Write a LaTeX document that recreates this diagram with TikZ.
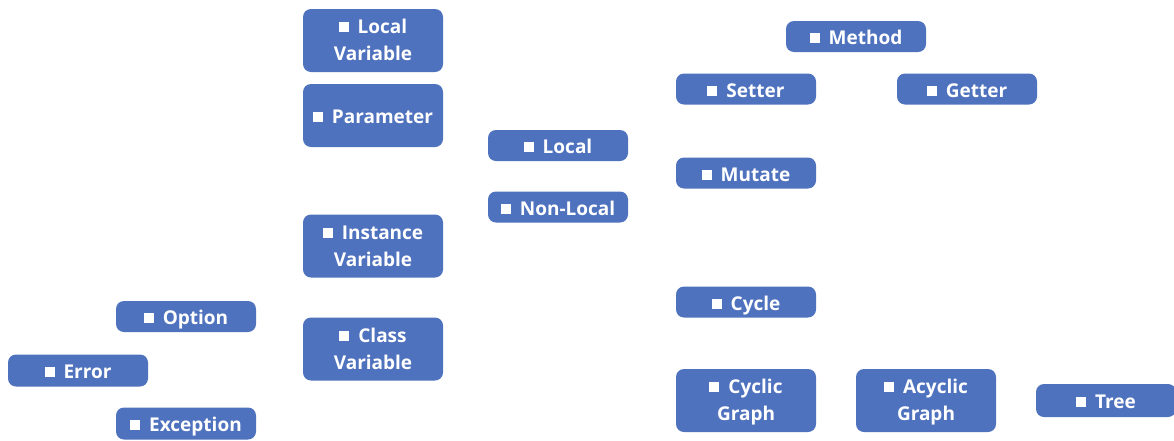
\documentclass[tikz,border=0pt]{standalone}
\usepackage{fontspec}
\setmainfont{Open Sans}
\definecolor{boxblue}{RGB}{79,114,190}
\newcommand\bul{\rule[-5pt]{0pt}{26.9pt}\raisebox{1.5pt}{\rule{10pt}{10pt}}\hspace{9pt}}
\newcommand\lastl{\rule[-8.3pt]{0pt}{1pt}}
\tikzset{
  box/.style={fill=boxblue, draw=none, rounded corners=8pt, text=white,
    font=\fontsize{19}{27}\selectfont\bfseries, align=center,
    inner sep=0pt, minimum width=140pt},
  onebox/.style={box, minimum height=31pt},
  twobox/.style={box, minimum height=63pt}
}
\begin{document}
\begin{tikzpicture}[x=1pt,y=-1pt]
\useasboundingbox[fill=white] (0,0) rectangle (1174,440);
\node[twobox] (localvar) at (373,40.5) {\bul Local\\Variable\lastl};
\node[twobox] (param) at (373,115.5) {\bul Parameter};
\node[twobox] (instvar) at (373,246) {\bul Instance\\Variable\lastl};
\node[twobox] (classvar) at (373,349) {\bul Class\\Variable\lastl};
\node[onebox] (local) at (558,145.5) {\bul Local};
\node[onebox] (nonlocal) at (558,207) {\bul Non-Local};
\node[onebox] (method) at (856,36.5) {\bul Method};
\node[onebox] (setter) at (746,89) {\bul Setter};
\node[onebox] (getter) at (967,89) {\bul Getter};
\node[onebox] (mutate) at (746,173) {\bul Mutate};
\node[onebox] (cycle) at (746,302) {\bul Cycle};
\node[twobox] (cyclic) at (746,400.5) {\bul Cyclic\\Graph\lastl};
\node[twobox] (acyclic) at (926,400.5) {\bul Acyclic\\Graph\lastl};
\node[onebox, minimum height=33pt] (tree) at (1106,400.5) {\bul Tree};
\node[onebox] (option) at (186,316.5) {\bul Option};
\node[onebox, minimum height=32pt] (error) at (78,370.5) {\bul Error};
\node[onebox, minimum height=32pt] (exception) at (186,423.5) {\bul Exception};
\end{tikzpicture}
\end{document}
